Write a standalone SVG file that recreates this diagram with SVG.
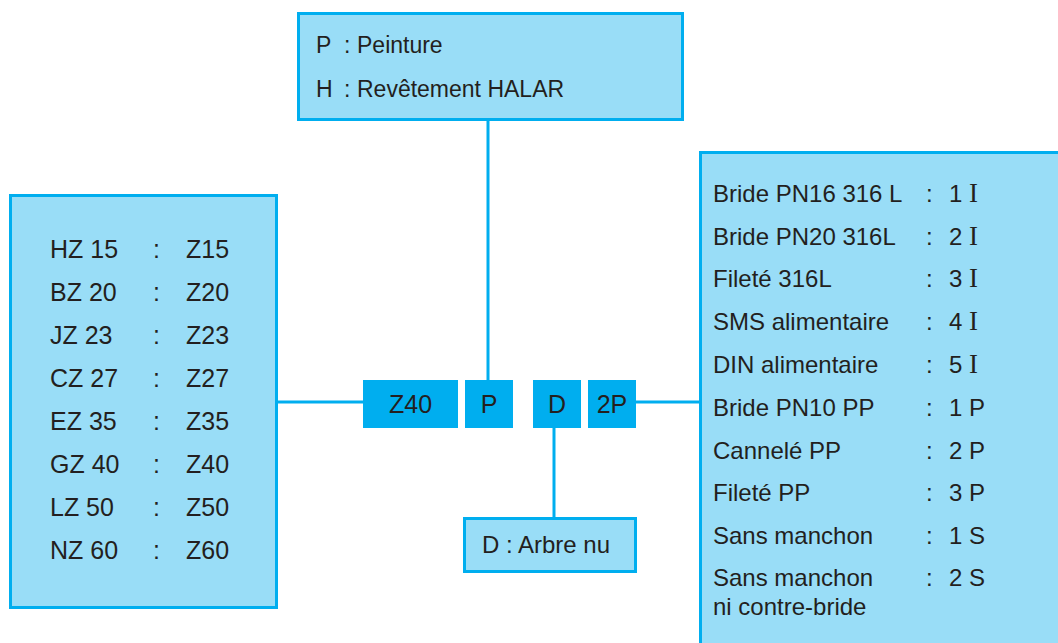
<svg xmlns="http://www.w3.org/2000/svg" width="1058" height="643" viewBox="0 0 1058 643">
<style>
.box{fill:#99DDF7;stroke:#00AEEF;stroke-width:3}
.dark{fill:#00AEEF}
.ln{stroke:#00AEEF;stroke-width:3;fill:none}
text{font-family:"Liberation Sans","DejaVu Sans",sans-serif;fill:#231F20}
.t23{font-size:23px}
.t24{font-size:24px}
.t25{font-size:25px}
.c{text-anchor:middle}
.s{font-family:"Liberation Serif",serif;font-size:27px}
</style>
<rect width="1058" height="643" fill="#ffffff"/>
<g id="connectors">
<line class="ln" x1="488" y1="120" x2="488" y2="380"/>
<line class="ln" x1="277" y1="402" x2="363" y2="402"/>
<line class="ln" x1="636" y1="402" x2="700" y2="402"/>
<line class="ln" x1="554" y1="428" x2="554" y2="518"/>
</g>
<g id="top-box">
<rect class="box" x="298.5" y="13.5" width="384" height="106"/>
<text class="t23" x="316" y="53">P</text><text class="t23" x="344" y="53">:</text><text class="t23" x="357" y="53">Peinture</text>
<text class="t23" x="316" y="97">H</text><text class="t23" x="344" y="97">:</text><text class="t23" x="357" y="97">Revêtement HALAR</text>
</g>
<g id="left-box">
<rect class="box" x="10.5" y="195.5" width="266" height="412"/>
<g class="t25">
<text x="50" y="258">HZ 15</text><text x="153" y="258">:</text><text x="186" y="258">Z15</text>
<text x="50" y="301">BZ 20</text><text x="153" y="301">:</text><text x="186" y="301">Z20</text>
<text x="50" y="344">JZ 23</text><text x="153" y="344">:</text><text x="186" y="344">Z23</text>
<text x="50" y="387">CZ 27</text><text x="153" y="387">:</text><text x="186" y="387">Z27</text>
<text x="50" y="430">EZ 35</text><text x="153" y="430">:</text><text x="186" y="430">Z35</text>
<text x="50" y="473">GZ 40</text><text x="153" y="473">:</text><text x="186" y="473">Z40</text>
<text x="50" y="516">LZ 50</text><text x="153" y="516">:</text><text x="186" y="516">Z50</text>
<text x="50" y="559">NZ 60</text><text x="153" y="559">:</text><text x="186" y="559">Z60</text>
</g>
</g>
<g id="code-z40">
<rect class="dark" x="363" y="380" width="95" height="48"/>
<text class="t25 c" x="410.5" y="413">Z40</text>
</g>
<g id="code-p">
<rect class="dark" x="465" y="380" width="48" height="48"/>
<text class="t25 c" x="489" y="413">P</text>
</g>
<g id="code-d">
<rect class="dark" x="533" y="380" width="48" height="48"/>
<text class="t25 c" x="557" y="413">D</text>
</g>
<g id="code-2p">
<rect class="dark" x="588" y="380" width="48" height="48"/>
<text class="t25 c" x="612" y="413">2P</text>
</g>
<g id="arbre-box">
<rect class="box" x="464.5" y="518.5" width="171" height="53"/>
<text class="t24" x="482" y="553">D : Arbre nu</text>
</g>
<g id="right-box">
<rect class="box" x="700.5" y="152.5" width="370" height="510"/>
<g class="t24">
<text x="713" y="202">Bride PN16 316 L</text><text x="926" y="202">:</text><text x="949" y="202">1 <tspan class="s">I</tspan></text>
<text x="713" y="245">Bride PN20 316L</text><text x="926" y="245">:</text><text x="949" y="245">2 <tspan class="s">I</tspan></text>
<text x="713" y="287">Fileté 316L</text><text x="926" y="287">:</text><text x="949" y="287">3 <tspan class="s">I</tspan></text>
<text x="713" y="330">SMS alimentaire</text><text x="926" y="330">:</text><text x="949" y="330">4 <tspan class="s">I</tspan></text>
<text x="713" y="373">DIN alimentaire</text><text x="926" y="373">:</text><text x="949" y="373">5 <tspan class="s">I</tspan></text>
<text x="713" y="416">Bride PN10 PP</text><text x="926" y="416">:</text><text x="949" y="416">1 P</text>
<text x="713" y="459">Cannelé PP</text><text x="926" y="459">:</text><text x="949" y="459">2 P</text>
<text x="713" y="501">Fileté PP</text><text x="926" y="501">:</text><text x="949" y="501">3 P</text>
<text x="713" y="544">Sans manchon</text><text x="926" y="544">:</text><text x="949" y="544">1 S</text>
<text x="713" y="586">Sans manchon</text><text x="926" y="586">:</text><text x="949" y="586">2 S</text>
<text x="713" y="615">ni contre-bride</text>
</g>
</g>
</svg>
